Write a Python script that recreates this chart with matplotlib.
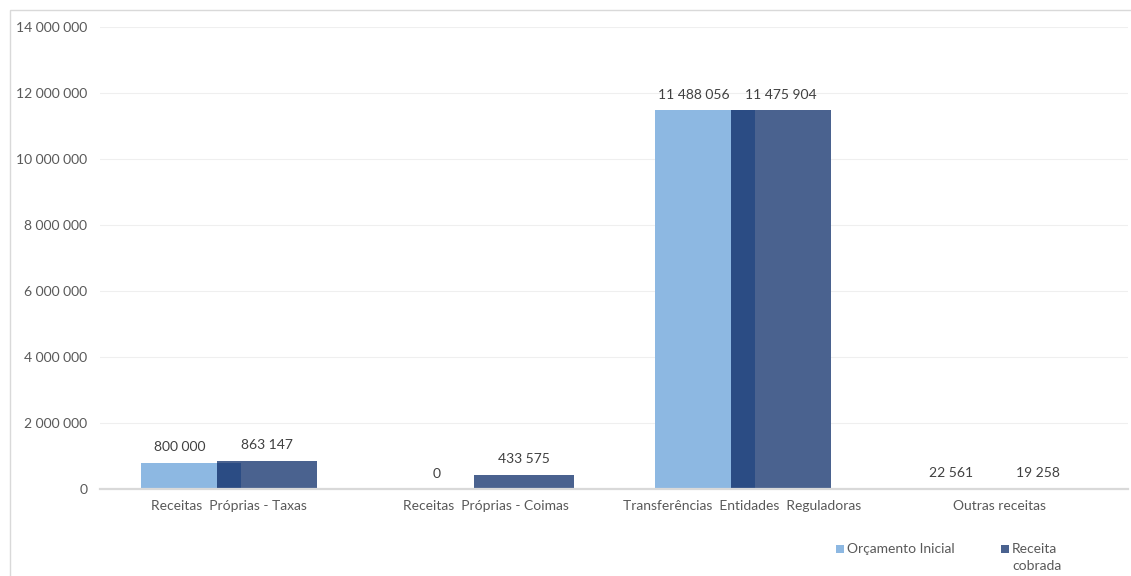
import numpy as np
import matplotlib.pyplot as plt
from matplotlib.patches import Rectangle
from matplotlib.ticker import FuncFormatter, MultipleLocator

plt.rcParams['font.family'] = ['Lato', 'DejaVu Sans']

categories = ["Receitas  Próprias - Taxas", "Receitas  Próprias - Coimas",
              "Transferências  Entidades  Reguladoras", "Outras receitas"]
orcamento = [800000, 0, 11488056, 22561]
cobrada = [863147, 433575, 11475904, 19258]

c_light = "#8DB8E2"
c_dark = "#4A628F"
c_over = "#2B4C84"
c_text = "#595959"

def fmt(v):
    return f"{int(round(v)):,}".replace(",", " ")

fig = plt.figure(figsize=(11.31, 5.76), dpi=100)
ax = fig.add_axes([100/1131, 87/576, 1028/1131, 462/576])

x = np.arange(len(categories))
w = 0.39
off_l, off_d = -0.145, 0.15
ax.bar(x + off_l, orcamento, w, color=c_light, zorder=2)
ax.bar(x + off_d, cobrada, w, color=c_dark, zorder=3)
# overlapping part of the two columns
both = np.minimum(orcamento, cobrada)
ov_left = x + off_d - w/2
ov_right = x + off_l + w/2
ax.bar((ov_left + ov_right)/2, both, ov_right - ov_left, color=c_over, zorder=4)

for i in range(len(categories)):
    ax.annotate(fmt(orcamento[i]), (x[i] - 0.19, orcamento[i]), xytext=(0, 11),
                textcoords="offset points", ha="center", va="center",
                fontsize=10, color="#404040")
    ax.annotate(fmt(cobrada[i]), (x[i] + off_d, cobrada[i]), xytext=(0, 11),
                textcoords="offset points", ha="center", va="center",
                fontsize=10, color="#404040")

ax.set_xlim(-0.5, 3.5)
ax.set_ylim(0, 14000000)
ax.yaxis.set_major_locator(MultipleLocator(2000000))
ax.yaxis.set_major_formatter(FuncFormatter(lambda v, p: fmt(v)))
ax.set_xticks(x)
ax.set_xticklabels(categories)
ax.tick_params(axis="both", length=0, labelsize=10, labelcolor=c_text)
ax.tick_params(axis="y", pad=9)
ax.tick_params(axis="x", pad=8)
ax.grid(axis="y", color="#EFEFEF", linewidth=0.8, zorder=0)
ax.set_axisbelow(True)
for s in ["left", "right", "top"]:
    ax.spines[s].set_visible(False)
ax.spines["bottom"].set_color("#D9D9D9")
ax.spines["bottom"].set_linewidth(1.6)
ax.spines["bottom"].set_zorder(5)

# chart frame
fig.patches.append(Rectangle((10/1131, -0.05), 1.1, (566/576) + 0.05, transform=fig.transFigure,
                             fill=False, edgecolor="#D9D9D9", linewidth=1))

# legend
def fy(py):
    return 1 - py/576

fig.patches.append(Rectangle((836/1131, fy(553)), 8/1131, 8/576, transform=fig.transFigure,
                             facecolor=c_light, edgecolor="none"))
fig.text(847/1131, fy(549), "Orçamento Inicial", fontsize=10, color=c_text, va="center", ha="left")
fig.patches.append(Rectangle((1001/1131, fy(553)), 8/1131, 8/576, transform=fig.transFigure,
                             facecolor=c_dark, edgecolor="none"))
fig.text(1012/1131, fy(549), "Receita", fontsize=10, color=c_text, va="center", ha="left")
fig.text(1012/1131, fy(566), "cobrada", fontsize=10, color=c_text, va="center", ha="left")

fig.savefig("out.png", dpi=100)
